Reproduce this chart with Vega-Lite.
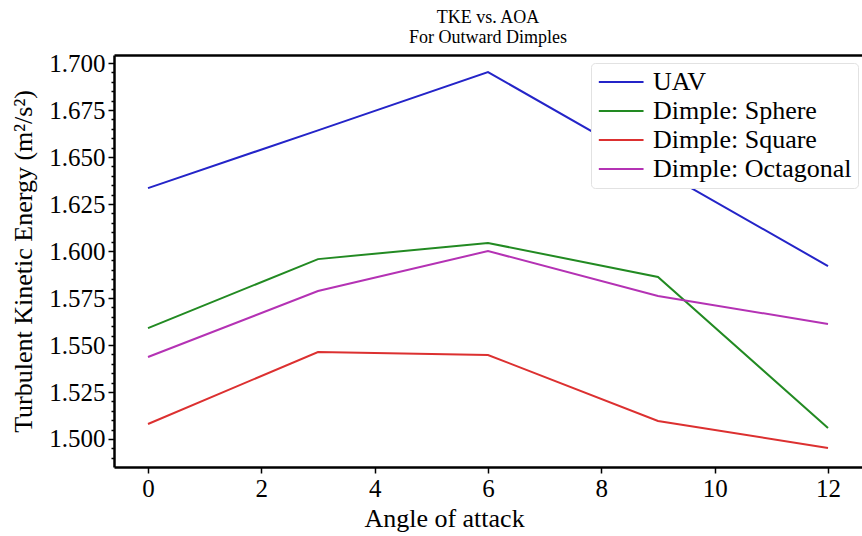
{
  "$schema": "https://vega.github.io/schema/vega-lite/v6.json",
  "width": 748,
  "height": 412,
  "autosize": {"type": "none"},
  "padding": {"left": 114, "top": 55, "right": 0, "bottom": 69},
  "background": "white",
  "config": {
    "font": "Liberation Serif",
    "view": {"stroke": null},
    "axis": {"grid": false, "domainColor": "black", "domainWidth": 2.5, "tickColor": "black", "labelColor": "black", "titleColor": "black", "labelFont": "Liberation Serif", "titleFont": "Liberation Serif", "titleFontWeight": "normal"}
  },
  "title": {"text": ["TKE vs. AOA", "For Outward Dimples"], "fontSize": 18, "fontWeight": "normal", "font": "Liberation Serif", "color": "black", "offset": 4, "anchor": "middle", "lineHeight": 20},
  "data": {"values": [
    {"aoa": 0, "tke": 1.6335, "series": "UAV"},
    {"aoa": 3, "tke": 1.6642, "series": "UAV"},
    {"aoa": 6, "tke": 1.6952, "series": "UAV"},
    {"aoa": 9, "tke": 1.6436, "series": "UAV"},
    {"aoa": 12, "tke": 1.5920, "series": "UAV"},
    {"aoa": 0, "tke": 1.5590, "series": "Dimple: Sphere"},
    {"aoa": 3, "tke": 1.5957, "series": "Dimple: Sphere"},
    {"aoa": 6, "tke": 1.6043, "series": "Dimple: Sphere"},
    {"aoa": 9, "tke": 1.5862, "series": "Dimple: Sphere"},
    {"aoa": 12, "tke": 1.5059, "series": "Dimple: Sphere"},
    {"aoa": 0, "tke": 1.5080, "series": "Dimple: Square"},
    {"aoa": 3, "tke": 1.5463, "series": "Dimple: Square"},
    {"aoa": 6, "tke": 1.5447, "series": "Dimple: Square"},
    {"aoa": 9, "tke": 1.5096, "series": "Dimple: Square"},
    {"aoa": 12, "tke": 1.4952, "series": "Dimple: Square"},
    {"aoa": 0, "tke": 1.5436, "series": "Dimple: Octagonal"},
    {"aoa": 3, "tke": 1.5787, "series": "Dimple: Octagonal"},
    {"aoa": 6, "tke": 1.6000, "series": "Dimple: Octagonal"},
    {"aoa": 9, "tke": 1.5761, "series": "Dimple: Octagonal"},
    {"aoa": 12, "tke": 1.5612, "series": "Dimple: Octagonal"}
  ]},
  "resolve": {"axis": {"x": "independent", "y": "independent"}},
  "layer": [
    {
      "mark": {"type": "line", "strokeWidth": 2, "strokeOpacity": 0},
      "encoding": {
        "x": {"field": "aoa", "type": "quantitative", "scale": {"domain": [-0.6, 12.6], "nice": false, "zero": false},
          "axis": {"orient": "top", "labels": false, "ticks": false, "title": null}},
        "y": {"field": "tke", "type": "quantitative", "scale": {"domain": [1.4851, 1.7043], "nice": false, "zero": false},
          "axis": {"orient": "left", "labels": false, "domain": false, "tickSize": 3, "tickWidth": 1.5, "title": null,
            "values": [1.485,1.49,1.495,1.505,1.51,1.515,1.52,1.53,1.535,1.54,1.545,1.555,1.56,1.565,1.57,1.58,1.585,1.59,1.595,1.605,1.61,1.615,1.62,1.63,1.635,1.64,1.645,1.655,1.66,1.665,1.67,1.68,1.685,1.69,1.695]}},
        "detail": {"field": "series"}
      }
    },
    {
      "mark": {"type": "line", "strokeWidth": 2},
      "encoding": {
        "x": {"field": "aoa", "type": "quantitative",
          "axis": {"orient": "bottom", "values": [0,2,4,6,8,10,12], "tickSize": 6, "tickWidth": 1.5, "labelFontSize": 25, "labelPadding": 3, "title": "Angle of attack", "titleFontSize": 26, "titlePadding": 4, "titleX": 330, "titleAlign": "center"}},
        "y": {"field": "tke", "type": "quantitative",
          "axis": {"orient": "left", "values": [1.5,1.525,1.55,1.575,1.6,1.625,1.65,1.675,1.7], "format": ".3f", "tickSize": 6, "tickWidth": 1.5, "labelFontSize": 25, "labelPadding": 3, "title": "Turbulent Kinetic Energy (m²/s²)", "titleFontSize": 26, "titlePadding": 12}},
        "color": {"field": "series", "type": "nominal",
          "scale": {"domain": ["UAV", "Dimple: Sphere", "Dimple: Square", "Dimple: Octagonal"], "range": ["#2424c8", "#228a22", "#dc3030", "#b432b4"]},
          "legend": {"title": null, "orient": "none", "legendX": 477, "legendY": 8, "symbolType": "M-1,0H3", "symbolSize": 500, "symbolStrokeWidth": 2, "symbolFillColor": "transparent", "labelFontSize": 26, "labelFont": "Liberation Serif", "labelColor": "black", "labelOffset": 30, "rowPadding": 3, "padding": 6, "fillColor": "white", "strokeColor": "#e2e2e2", "cornerRadius": 4, "labelLimit": 400}
        }
      }
    }
  ]
}
